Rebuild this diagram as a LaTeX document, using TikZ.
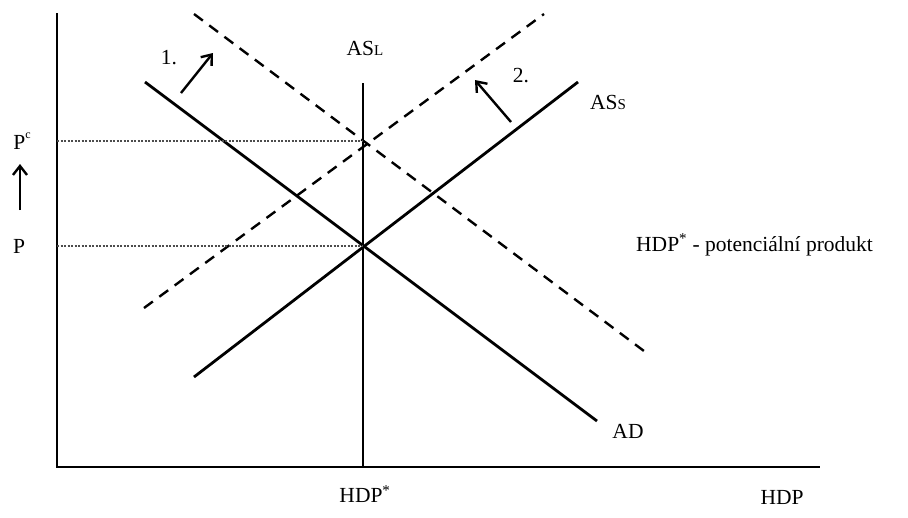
\documentclass[tikz,border=0pt]{standalone}
\usepackage{fontspec}
\setmainfont{Liberation Serif}
\usetikzlibrary{arrows.meta}
\begin{document}
\begin{tikzpicture}[x=1pt,y=-1pt,
  curve/.style={line width=2.8pt},
  dcurve/.style={line width=2.4pt, dash pattern=on 11pt off 8pt},
  axis/.style={line width=2.2pt},
  dotl/.style={line width=1.8pt, dash pattern=on 2pt off 1.5pt, gray!60!black},
  shiftarrow/.style={line width=2.4pt, -{Straight Barb[length=9pt,width=14pt,line width=2.4pt]}},
  lbl/.style={font=\fontsize{21.5}{25}\selectfont, inner sep=0pt}]
\useasboundingbox (0,0) rectangle (908,517);
% axes
\coordinate (Ytop) at (57,13);
\coordinate (O) at (57,467);
\coordinate (Xend) at (820,467);
\draw[axis] (Ytop) -- (O) -- (Xend);
% long-run AS
\coordinate (ASLtop) at (363,83);
\coordinate (ASLbot) at (363,467);
\draw[axis] (ASLtop) -- (ASLbot);
% AD and AS_S
\coordinate (AD1) at (145,82);
\coordinate (AD2) at (597,421);
\draw[curve] (AD1) -- (AD2);
\coordinate (AS1) at (194,377);
\coordinate (AS2) at (578,82);
\draw[curve] (AS1) -- (AS2);
% dashed shifted curves
\coordinate (DAD1) at (194,14);
\coordinate (DAD2) at (648,354);
\draw[dcurve] (DAD1) -- (DAD2);
\coordinate (DAS1) at (144,308);
\coordinate (DAS2) at (544,14);
\draw[dcurve] (DAS1) -- (DAS2);
% dotted price levels
\coordinate (Pc0) at (57,141);
\coordinate (Pc1) at (363,141);
\coordinate (P0) at (57,246);
\coordinate (P1) at (363,246);
\draw[dotl] (Pc0) -- (Pc1);
\draw[dotl] (P0) -- (P1);
% labels
\node[lbl] (Pc) at (22,141) {P\raisebox{1.1ex}{\fontsize{12}{13}\selectfont c}};
\node[lbl] (P) at (19,246) {P};
\coordinate (UpA) at (20,210);
\coordinate (UpB) at (20,164);
\draw[shiftarrow] (UpA) -- (UpB);
\node[lbl] (n1) at (169,58) {1.};
\coordinate (A1s) at (181,93);
\coordinate (A1e) at (213,53);
\draw[shiftarrow] (A1s) -- (A1e);
\node[lbl] (n2) at (521,76) {2.};
\coordinate (A2s) at (511,122);
\coordinate (A2e) at (475,80);
\draw[shiftarrow] (A2s) -- (A2e);
\node[lbl] (ASL) at (365,48) {AS{\fontsize{15}{17}\selectfont L}};
\node[lbl] (ASS) at (608,102) {AS{\fontsize{15}{17}\selectfont S}};
\node[lbl] (AD) at (628,431) {AD};
\node[lbl, anchor=west] (pot) at (636,245) {HDP\textsuperscript{*} - potenciální produkt};
\node[lbl] (HDPs) at (365,494) {HDP\textsuperscript{*}};
\node[lbl] (HDP) at (782,497) {HDP};
\end{tikzpicture}
\end{document}
